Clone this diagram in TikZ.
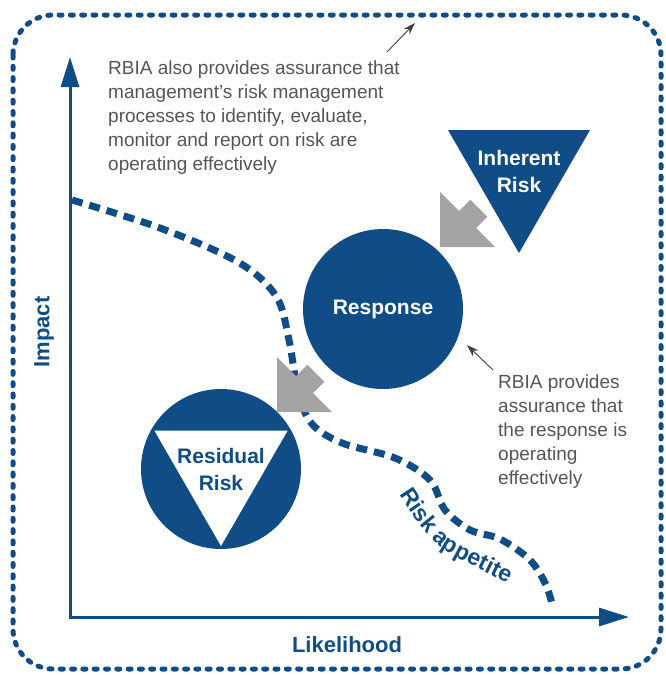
\documentclass[tikz,border=0pt]{standalone}
\usepackage{fontspec}
\setmainfont{Liberation Sans}
\usetikzlibrary{arrows.meta,shapes.geometric,decorations.text}
\definecolor{RBIABlue}{RGB}{16,76,133}
\definecolor{RBIAGray}{RGB}{163,163,163}
\definecolor{RBIAText}{RGB}{85,85,85}

\begin{document}
\begin{tikzpicture}[x=1pt,y=-1pt,
  frame/.style={draw=RBIABlue,line width=5pt,dash pattern=on 3pt off 8.3pt,line cap=round,rounded corners=40pt},
  axis/.style={draw=RBIABlue,line width=3pt,{Triangle[length=30pt,width=18pt]}-{Triangle[length=30pt,width=18pt]}},
  appetite/.style={draw=RBIABlue,line width=7pt,dash pattern=on 11pt off 7pt},
  blob/.style={circle,fill=RBIABlue,minimum size=#1,inner sep=0pt},
  tri/.style n args={2}{regular polygon,regular polygon sides=3,shape border rotate=180,fill=#1,minimum size=#2,inner sep=0pt},
  bold/.style={font=\fontsize{21}{27}\selectfont\bfseries,align=center,text=#1,inner sep=0pt},
  note/.style={font=\fontsize{19}{24}\selectfont,text=RBIAText,align=left,inner sep=0pt,anchor=north west},
  pointer/.style={-{Stealth[length=12pt,width=8pt]},line width=0.9pt,draw=black!75},
  axislabel/.style={font=\fontsize{22}{26}\selectfont\bfseries,text=RBIABlue}]
\useasboundingbox (0,0) rectangle (666,675);
% frame and axes
\draw[frame] (13,15) rectangle (661,669);
\coordinate (origin) at (70,617);
\coordinate (ytip) at (70,57);
\coordinate (xtip) at (629,617);
\draw[axis] (ytip) -- (origin) -- (xtip);
\node[axislabel,rotate=90] (impact) at (44,332) {Impact};
\node[axislabel] (likelihood) at (347,645) {Likelihood};
% risk appetite line
\draw[appetite] plot[smooth,tension=0.55] coordinates {(72,200) (160,228) (238,262) (276,296) (289,340) (298,392) (312,424) (342,443) (395,458) (430,480) (445,510) (470,530) (500,539) (530,560) (546,585) (553,608)};
\path[decorate,decoration={text along path,text={|\fontsize{23}{27}\selectfont\bfseries|Risk appetite},text color=RBIABlue,text align=center}]
   (381,466) .. controls (403,500) and (420,532) .. (446,551) .. controls (472,567) and (505,580) .. (537,600);
% grey arrows
\foreach \tx/\ty in {440/247,277/412} {
   \fill[RBIAGray,shift={(\tx,\ty)}] (0,0) -- (0,-55) -- (19,-36) -- (30.3,-47.3) -- (47.3,-30.3) -- (36,-19) -- (55,0) -- cycle;
}
% shapes
\node[tri={RBIABlue}{164}] (inherent) at (519,171) {};
\node[bold=white] at (inherent.center) {Inherent\\Risk};
\node[blob=160,text=white,font=\fontsize{21}{27}\selectfont\bfseries] (response) at (383,309) {Response};
\node[blob=160] (residual) at (221,469) {};
\node[tri={white}{154}] (residualtri) at (residual.center) {};
\node[bold=RBIABlue] at (residual.center) {Residual\\Risk};
% notes
\node[note] (assurance) at (108,61) {RBIA also provides assurance that\\management’s risk management\\processes to identify, evaluate,\\monitor and report on risk are\\operating effectively};
\node[note] (responsenote) at (498,375) {RBIA provides\\assurance that\\the response is\\operating\\effectively};
\coordinate (p1) at (387,52);
\coordinate (p1tip) at (415,23);
\coordinate (p2) at (493,370);
\coordinate (p2tip) at (467,345);
\draw[pointer] (p1) -- (p1tip);
\draw[pointer] (p2) -- (p2tip);
\end{tikzpicture}
\end{document}
